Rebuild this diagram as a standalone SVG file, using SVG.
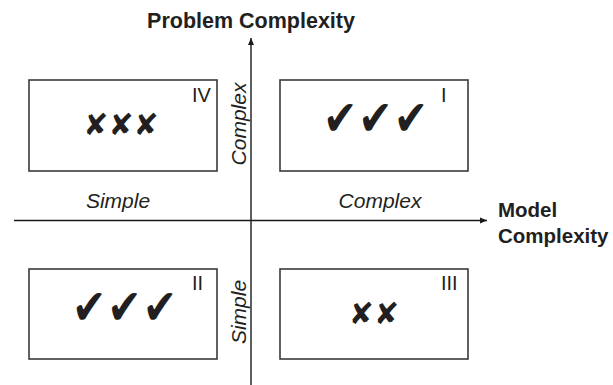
<svg xmlns="http://www.w3.org/2000/svg" width="613" height="385" viewBox="0 0 613 385">
<style>
.box{fill:#fff;stroke:#3a3a3a;stroke-width:1.6}
.ax{stroke:#1a1a1a;stroke-width:1.4;fill:none}
.bold{font-family:"Liberation Sans",Arial,sans-serif;font-weight:bold;font-size:20.5px;fill:#231f20}
.title{font-size:21.5px}
.it{font-family:"Liberation Sans",Arial,sans-serif;font-style:italic;font-size:21px;fill:#231f20}
.rn{font-family:"Liberation Sans",Arial,sans-serif;font-size:20px;fill:#231f20}
.chk{font-family:"DejaVu Sans",sans-serif;font-size:41px;fill:#231f20;text-anchor:middle;letter-spacing:1px}
.xx{font-family:"DejaVu Sans",sans-serif;font-size:30px;fill:#231f20;text-anchor:middle}
</style>
<defs>
<marker id="ah" markerWidth="8" markerHeight="8" refX="7" refY="4" orient="auto" markerUnits="userSpaceOnUse">
<path d="M0,1 L7,4 L0,7 Z" fill="#1a1a1a"/>
</marker>
</defs>
<g id="connectors">
<line class="ax" x1="251" y1="385" x2="251" y2="38" marker-end="url(#ah)"/>
<line class="ax" x1="14" y1="220.5" x2="487" y2="220.5" marker-end="url(#ah)"/>
</g>
<g id="axis-labels">
<text class="bold title" x="251" y="28" text-anchor="middle">Problem Complexity</text>
<text class="bold" x="498" y="217">Model</text>
<text class="bold" x="498" y="243">Complexity</text>
<text class="it" x="118" y="208" text-anchor="middle">Simple</text>
<text class="it" x="380" y="208" text-anchor="middle">Complex</text>
<text class="it" transform="translate(246,124) rotate(-90)" text-anchor="middle">Complex</text>
<text class="it" transform="translate(246,312) rotate(-90)" text-anchor="middle">Simple</text>
</g>
<g id="q4">
<rect class="box" x="29" y="80" width="188" height="91"/>
<text class="rn" x="192" y="102">IV</text>
<text class="xx" x="121" y="135">✘✘✘</text>
</g>
<g id="q1">
<rect class="box" x="280" y="80" width="188" height="91"/>
<text class="rn" x="441" y="102">I</text>
<text class="chk" transform="translate(376,135) scale(1,1.2)">✔✔✔</text>
</g>
<g id="q2">
<rect class="box" x="29" y="269" width="188" height="90"/>
<text class="rn" x="192" y="290">II</text>
<text class="chk" transform="translate(125,324) scale(1,1.2)">✔✔✔</text>
</g>
<g id="q3">
<rect class="box" x="280" y="269" width="188" height="90"/>
<text class="rn" x="441" y="290">III</text>
<text class="xx" x="374" y="324">✘✘</text>
</g>
</svg>
